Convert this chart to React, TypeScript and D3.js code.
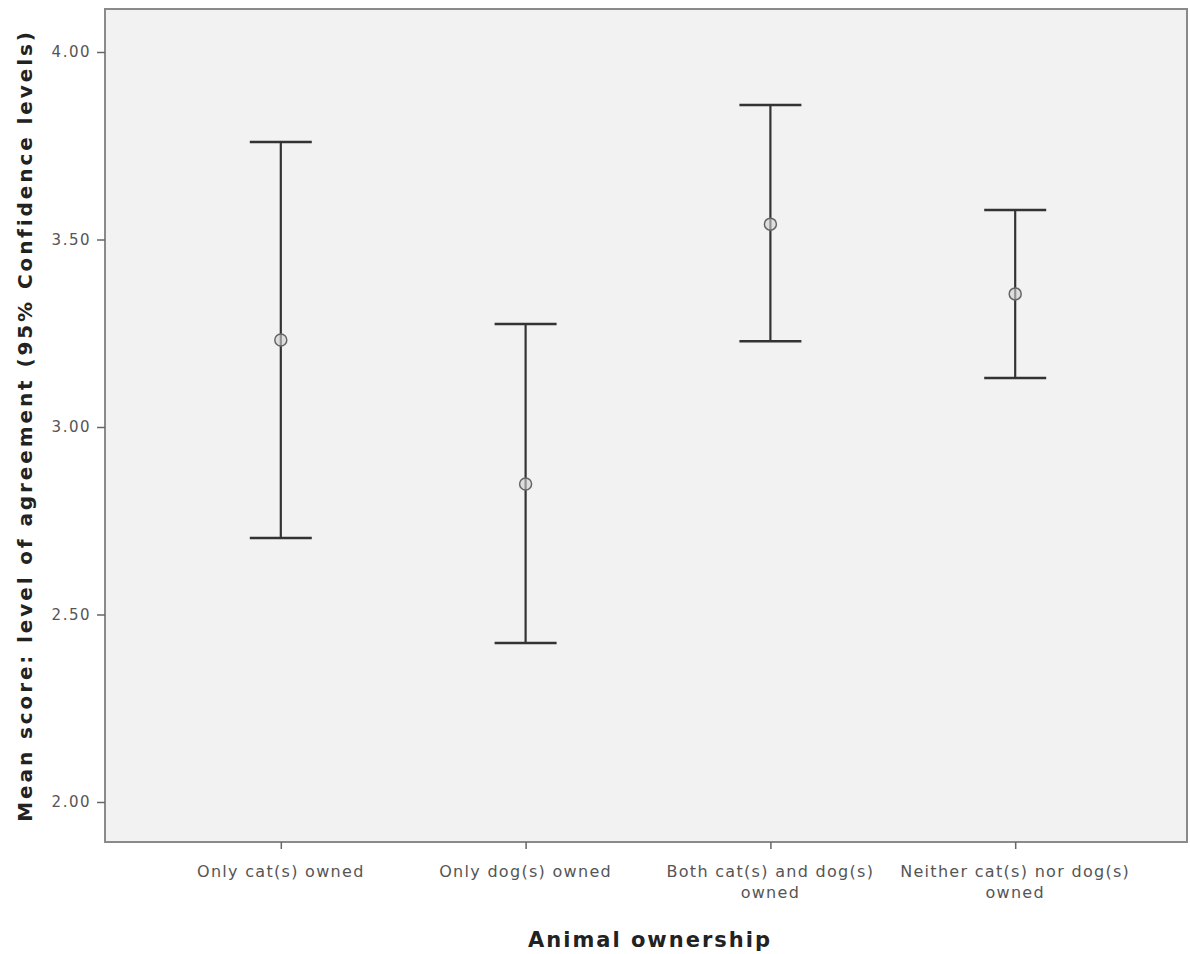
import React, { useRef, useEffect } from 'react';
import * as d3 from 'd3';

const categories = [
  ['Only cat(s) owned'],
  ['Only dog(s) owned'],
  ['Both cat(s) and dog(s)', 'owned'],
  ['Neither cat(s) nor dog(s)', 'owned'],
];
const means = [3.232, 2.848, 3.541, 3.355];
const lower = [2.704, 2.424, 3.229, 3.131];
const upper = [3.76, 3.275, 3.859, 3.579];
const yTicks = [2.0, 2.5, 3.0, 3.5, 4.0];

const App = () => {
  const ref = useRef<SVGSVGElement>(null);

  useEffect(() => {
    const svg = d3.select(ref.current);
    svg.selectAll('*').remove();

    const width = 1190;
    const height = 954;
    const left = 105, right = 1187, top = 9, bottom = 842;

    svg.attr('width', width).attr('height', height);

    svg.append('rect')
      .attr('x', left).attr('y', top)
      .attr('width', right - left).attr('height', bottom - top)
      .attr('fill', '#f2f2f2')
      .attr('stroke', '#8a8a8a')
      .attr('stroke-width', 2);

    const y = d3.scaleLinear()
      .domain([2.0, 4.0])
      .range([802, 52]);

    const idx = categories.map((_, i) => i);
    const x = d3.scalePoint<number>()
      .domain(idx)
      .range([left + 2, right + 2])
      .padding(0.71);

    // y axis
    const yAxis = svg.append('g')
      .attr('transform', `translate(${left},0)`)
      .call(d3.axisLeft(y).tickValues(yTicks).tickFormat(d3.format('.2f')).tickSize(8).tickSizeOuter(0));
    yAxis.select('.domain').remove();
    yAxis.selectAll('line').attr('stroke', '#666').attr('stroke-width', 1.5);
    yAxis.selectAll('text')
      .attr('fill', '#555')
      .attr('font-family', '"DejaVu Sans", Verdana, sans-serif')
      .attr('font-size', 15)
      .attr('letter-spacing', 1.5)
      .attr('x', -14);

    // x axis
    const xAxis = svg.append('g')
      .attr('transform', `translate(0,${bottom})`)
      .call(d3.axisBottom(x).tickSize(7).tickSizeOuter(0).tickFormat(() => ''));
    xAxis.select('.domain').remove();
    xAxis.selectAll('line').attr('stroke', '#666').attr('stroke-width', 1.5);

    const xl = svg.append('g')
      .attr('font-family', '"DejaVu Sans", Verdana, sans-serif')
      .attr('font-size', 16)
      .attr('letter-spacing', 1.3)
      .attr('fill', '#555')
      .attr('text-anchor', 'middle');
    categories.forEach((lines, i) => {
      lines.forEach((t, j) => {
        xl.append('text')
          .attr('x', x(i)!)
          .attr('y', 877 + j * 21)
          .text(t);
      });
    });

    // error bars
    const g = svg.append('g').attr('stroke', '#333').attr('fill', 'none');
    const cap = 31;
    idx.forEach((i) => {
      const cx = x(i)!;
      g.append('line')
        .attr('x1', cx).attr('x2', cx)
        .attr('y1', y(upper[i])).attr('y2', y(lower[i]))
        .attr('stroke-width', 2.2);
      [upper[i], lower[i]].forEach((v) => {
        g.append('line')
          .attr('x1', cx - cap).attr('x2', cx + cap)
          .attr('y1', y(v)).attr('y2', y(v))
          .attr('stroke-width', 2.5);
      });
      svg.append('circle')
        .attr('cx', cx).attr('cy', y(means[i]))
        .attr('r', 6)
        .attr('fill', '#d0d0d0')
        .attr('fill-opacity', 0.6)
        .attr('stroke', '#666')
        .attr('stroke-width', 1.5);
    });

    // axis titles
    svg.append('text')
      .attr('x', (left + right) / 2 + 4)
      .attr('y', 947)
      .attr('text-anchor', 'middle')
      .attr('font-family', 'Verdana, "DejaVu Sans", sans-serif')
      .attr('font-weight', 'bold')
      .attr('font-size', 21)
      .attr('letter-spacing', 2)
      .attr('fill', '#222')
      .text('Animal ownership');

    svg.append('text')
      .attr('transform', `translate(32,${(top + bottom) / 2}) rotate(-90)`)
      .attr('text-anchor', 'middle')
      .attr('font-family', 'Verdana, "DejaVu Sans", sans-serif')
      .attr('font-weight', 'bold')
      .attr('font-size', 20)
      .attr('letter-spacing', 2.9)
      .attr('fill', '#222')
      .text('Mean score: level of agreement (95% Confidence levels)');
  }, []);

  return (
    <div style={{ position: 'absolute', left: 0, top: 0 }}>
      <svg ref={ref}></svg>
    </div>
  );
};

export default App;
